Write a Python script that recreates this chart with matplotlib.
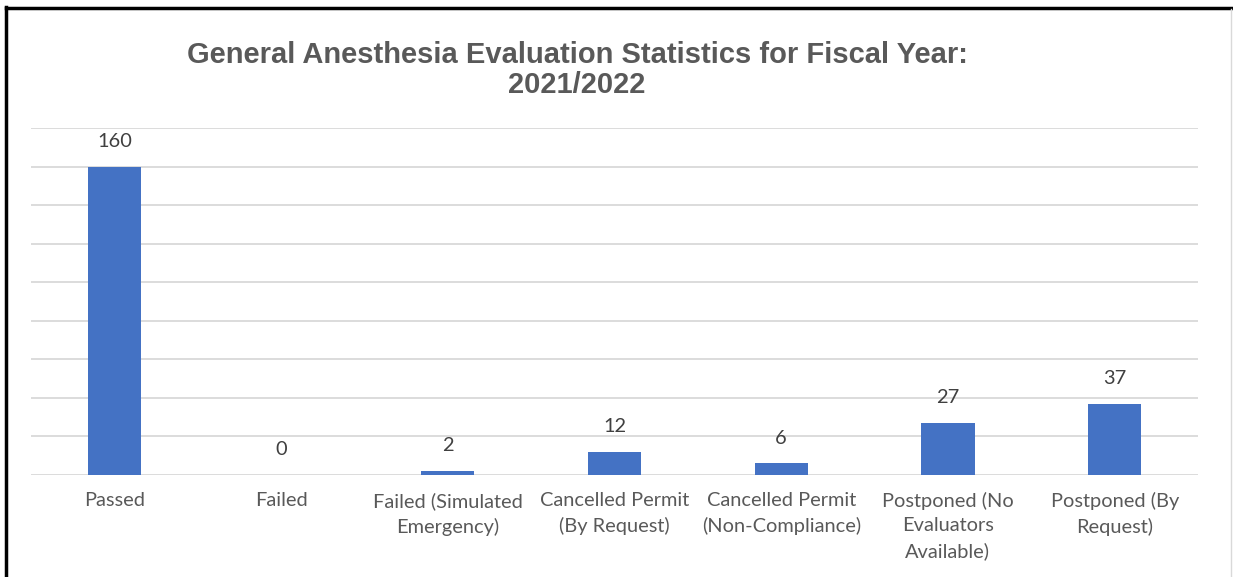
import matplotlib
matplotlib.use("Agg")
import matplotlib.pyplot as plt
from matplotlib.lines import Line2D

categories = [
    "Passed",
    "Failed",
    "Failed (Simulated\nEmergency)",
    "Cancelled Permit\n(By Request)",
    "Cancelled Permit\n(Non-Compliance)",
    "Postponed (No\nEvaluators\nAvailable)",
    "Postponed (By\nRequest)",
]
counts = [160, 0, 2, 12, 6, 27, 37]
title = "General Anesthesia Evaluation Statistics for Fiscal Year:\n2021/2022"

W, H = 1233, 577
fig = plt.figure(figsize=(W / 100, H / 100), dpi=100)
fig.patch.set_facecolor("white")

ax = fig.add_axes([31 / W, 1 - 475 / H, (1198 - 31) / W, (475 - 128) / H])
x = list(range(len(categories)))
bars = ax.bar(x, counts, width=0.32, color="#4472C4", zorder=3)

ax.set_xlim(-0.5, len(categories) - 0.5)
ax.set_ylim(0, 180)
ax.set_yticks(range(0, 181, 20))
ax.yaxis.grid(True, color="#D9D9D9", linewidth=1.3, zorder=0)
ax.tick_params(axis="y", left=False, labelleft=False)
ax.tick_params(axis="x", bottom=False, pad=9)
for s in ax.spines.values():
    s.set_visible(False)

label_font = ["Lato", "DejaVu Sans"]
ax.set_xticks(x)
ax.set_xticklabels(categories, fontsize=14.4, color="#595959",
                   family=label_font, linespacing=1.5)

for xi, v in zip(x, counts):
    ax.annotate(str(v), (xi, v), xytext=(0, 12), textcoords="offset points",
                ha="center", va="bottom", fontsize=14.4, color="#404040",
                family=label_font)

fig.text(577 / W, 1 - 70 / H, title, ha="center", va="center",
         fontsize=21, fontweight="bold", color="#595959",
         family=["Liberation Sans", "DejaVu Sans"], linespacing=1.1)

# frame around the chart
fig.add_artist(Line2D([6 / W, 6 / W], [0, 1 - 7 / H], transform=fig.transFigure,
                      color="black", linewidth=2.5))
fig.add_artist(Line2D([6 / W, 1232 / W], [1 - 8 / H, 1 - 8 / H], transform=fig.transFigure,
                      color="black", linewidth=2.5))
fig.add_artist(Line2D([1231 / W, 1231 / W], [0, 1 - 9 / H], transform=fig.transFigure,
                      color="#D9D9D9", linewidth=1))

fig.savefig("out.png", dpi=100, facecolor="white")
